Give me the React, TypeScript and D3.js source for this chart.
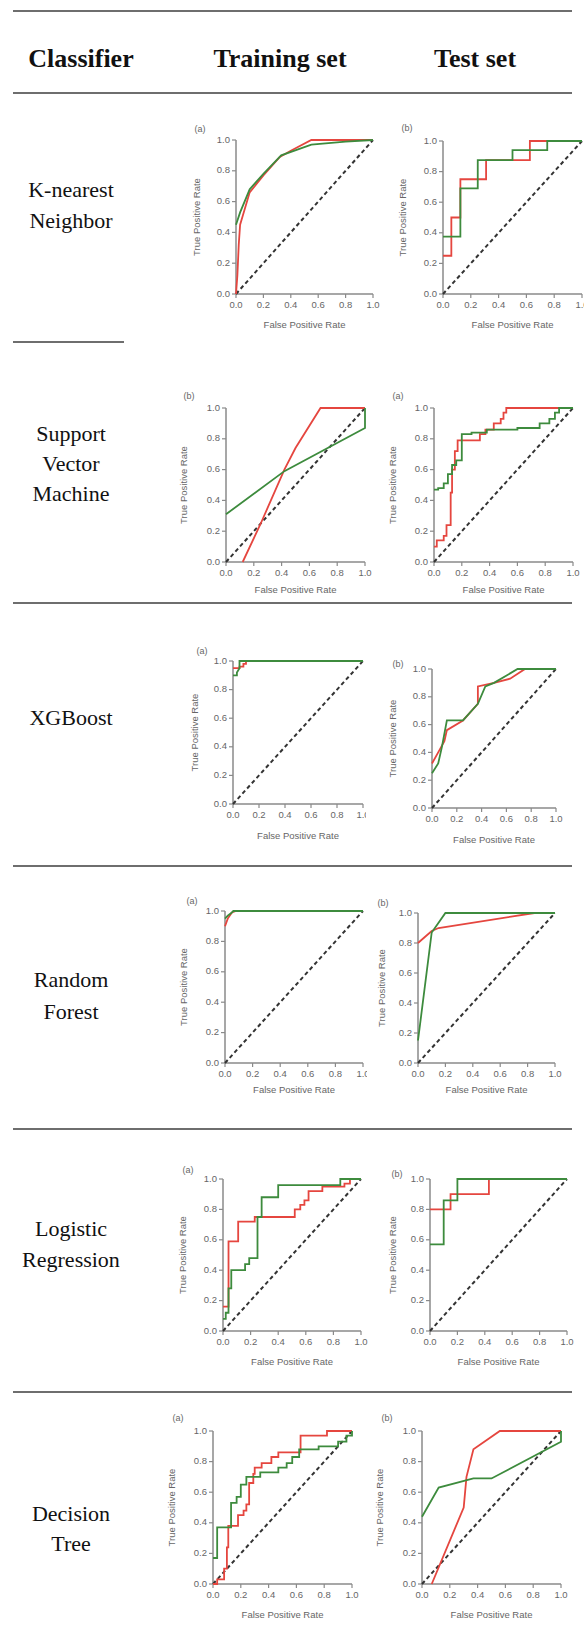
import React from 'react';
import * as d3 from 'd3';

type Pt = [number, number];

// classifier names (one entry per table row, split into text lines)
const classifiers: string[][] = [
  ['K-nearest', 'Neighbor'],
  ['Support', 'Vector', 'Machine'],
  ['XGBoost'],
  ['Random', 'Forest'],
  ['Logistic', 'Regression'],
  ['Decision', 'Tree'],
];
const headers = ['Classifier', 'Training set', 'Test set'];
const tickValues = [0, 0.2, 0.4, 0.6, 0.8, 1.0];

// ROC curves, [false positive rate, true positive rate]
const knnTrainRed: Pt[] = [[0, 0], [0.01, 0.12], [0.02, 0.32], [0.03, 0.45], [0.1, 0.66], [0.2, 0.77], [0.32, 0.89], [0.4, 0.93], [0.55, 1], [1, 1]];
const knnTrainGreen: Pt[] = [[0, 0.45], [0.03, 0.53], [0.1, 0.68], [0.2, 0.78], [0.33, 0.9], [0.55, 0.97], [0.8, 0.99], [1, 1]];
const knnTestRed: Pt[] = [[0, 0.25], [0.06, 0.25], [0.06, 0.5], [0.125, 0.5], [0.125, 0.75], [0.31, 0.75], [0.31, 0.875], [0.625, 0.875], [0.625, 1], [1, 1]];
const knnTestGreen: Pt[] = [[0, 0.375], [0.125, 0.375], [0.125, 0.69], [0.25, 0.69], [0.25, 0.875], [0.5, 0.875], [0.5, 0.94], [0.75, 0.94], [0.75, 1], [1, 1]];

const svmTrainRed: Pt[] = [[0.12, 0], [0.25, 0.25], [0.42, 0.6], [0.5, 0.74], [0.68, 1], [1, 1]];
const svmTrainGreen: Pt[] = [[0, 0.31], [0.42, 0.59], [1, 0.87], [1, 1]];
const svmTestRed: Pt[] = [[0, 0.1], [0.02, 0.1], [0.02, 0.14], [0.07, 0.14], [0.07, 0.17], [0.09, 0.17], [0.09, 0.24], [0.12, 0.24], [0.12, 0.45], [0.13, 0.45], [0.13, 0.6], [0.15, 0.6], [0.15, 0.72], [0.17, 0.72], [0.17, 0.79], [0.33, 0.79], [0.33, 0.83], [0.37, 0.83], [0.37, 0.86], [0.43, 0.86], [0.43, 0.9], [0.48, 0.9], [0.48, 0.93], [0.5, 0.93], [0.5, 0.97], [0.52, 0.97], [0.52, 1], [1, 1]];
const svmTestGreen: Pt[] = [[0, 0.47], [0.03, 0.47], [0.03, 0.48], [0.07, 0.48], [0.07, 0.51], [0.1, 0.51], [0.1, 0.57], [0.13, 0.57], [0.13, 0.63], [0.16, 0.63], [0.16, 0.66], [0.2, 0.66], [0.2, 0.83], [0.27, 0.83], [0.27, 0.84], [0.38, 0.84], [0.38, 0.86], [0.6, 0.86], [0.6, 0.87], [0.76, 0.87], [0.76, 0.9], [0.83, 0.9], [0.83, 0.93], [0.87, 0.93], [0.87, 0.97], [0.9, 0.97], [0.9, 1], [1, 1]];

const xgbTrainRed: Pt[] = [[0, 0.95], [0.05, 0.95], [0.05, 0.96], [0.08, 0.96], [0.08, 0.98], [0.1, 0.98], [0.1, 1], [1, 1]];
const xgbTrainGreen: Pt[] = [[0, 0.9], [0.03, 0.9], [0.03, 0.92], [0.05, 0.95], [0.05, 1], [1, 1]];
const xgbTestRed: Pt[] = [[0, 0.32], [0.05, 0.4], [0.1, 0.48], [0.12, 0.56], [0.25, 0.63], [0.37, 0.75], [0.37, 0.875], [0.5, 0.9], [0.63, 0.93], [0.75, 1], [1, 1]];
const xgbTestGreen: Pt[] = [[0, 0.25], [0.05, 0.32], [0.08, 0.44], [0.12, 0.63], [0.25, 0.63], [0.37, 0.75], [0.43, 0.875], [0.5, 0.9], [0.69, 1], [1, 1]];

const rfTrainRed: Pt[] = [[0, 0.9], [0.02, 0.95], [0.05, 0.99], [0.08, 1], [1, 1]];
const rfTrainGreen: Pt[] = [[0, 0.95], [0.02, 0.97], [0.05, 0.99], [0.06, 1], [1, 1]];
const rfTestRed: Pt[] = [[0, 0.8], [0.05, 0.84], [0.1, 0.88], [0.15, 0.9], [0.85, 1], [1, 1]];
const rfTestGreen: Pt[] = [[0, 0.15], [0.1, 0.87], [0.2, 1], [1, 1]];

const lrTrainRed: Pt[] = [[0, 0.16], [0.04, 0.16], [0.04, 0.59], [0.11, 0.59], [0.11, 0.72], [0.23, 0.72], [0.23, 0.75], [0.52, 0.75], [0.52, 0.8], [0.56, 0.8], [0.56, 0.83], [0.59, 0.83], [0.59, 0.86], [0.62, 0.86], [0.62, 0.92], [0.72, 0.92], [0.72, 0.95], [0.88, 0.95], [0.88, 0.97], [0.92, 0.97], [0.92, 1], [1, 1]];
const lrTrainGreen: Pt[] = [[0, 0.08], [0.02, 0.08], [0.02, 0.12], [0.04, 0.12], [0.04, 0.28], [0.06, 0.28], [0.06, 0.4], [0.16, 0.4], [0.16, 0.44], [0.19, 0.44], [0.19, 0.48], [0.25, 0.48], [0.25, 0.75], [0.28, 0.75], [0.28, 0.88], [0.4, 0.88], [0.4, 0.96], [0.85, 0.96], [0.85, 1], [1, 1]];
const lrTestRed: Pt[] = [[0, 0.8], [0.15, 0.8], [0.15, 0.9], [0.43, 0.9], [0.43, 1], [1, 1]];
const lrTestGreen: Pt[] = [[0, 0.57], [0.1, 0.57], [0.1, 0.86], [0.2, 0.86], [0.2, 1], [1, 1]];

const dtTrainRed: Pt[] = [[0, 0], [0.03, 0], [0.03, 0.03], [0.08, 0.03], [0.08, 0.1], [0.1, 0.1], [0.1, 0.24], [0.11, 0.24], [0.11, 0.38], [0.18, 0.38], [0.18, 0.45], [0.22, 0.45], [0.22, 0.48], [0.24, 0.48], [0.24, 0.52], [0.26, 0.52], [0.26, 0.66], [0.29, 0.66], [0.29, 0.72], [0.3, 0.72], [0.3, 0.76], [0.35, 0.76], [0.35, 0.79], [0.42, 0.79], [0.42, 0.83], [0.47, 0.83], [0.47, 0.86], [0.63, 0.86], [0.63, 0.97], [0.82, 0.97], [0.82, 1], [1, 1]];
const dtTrainGreen: Pt[] = [[0, 0.17], [0.03, 0.17], [0.03, 0.37], [0.13, 0.37], [0.13, 0.53], [0.17, 0.53], [0.17, 0.57], [0.2, 0.57], [0.2, 0.65], [0.24, 0.65], [0.24, 0.7], [0.34, 0.7], [0.34, 0.73], [0.47, 0.73], [0.47, 0.76], [0.53, 0.76], [0.53, 0.79], [0.57, 0.79], [0.57, 0.83], [0.62, 0.83], [0.62, 0.88], [0.76, 0.88], [0.76, 0.9], [0.9, 0.9], [0.9, 0.93], [0.96, 0.93], [0.96, 0.97], [1, 0.97], [1, 1]];
const dtTestRed: Pt[] = [[0.07, 0], [0.3, 0.5], [0.32, 0.7], [0.37, 0.88], [0.56, 1], [1, 1]];
const dtTestGreen: Pt[] = [[0, 0.44], [0.12, 0.63], [0.37, 0.69], [0.5, 0.69], [1, 0.93], [1, 1]];

// where each small ROC panel sits on the page
const panels = [
  { tag: '(a)', red: knnTrainRed, green: knnTrainGreen, x0: 236, x1: 373, top: 140, bottom: 294, tagX: 200, tagY: 130, yt: 197, xt: 325 },
  { tag: '(b)', red: knnTestRed, green: knnTestGreen, x0: 443, x1: 582, top: 141, bottom: 294, tagX: 407, tagY: 129, yt: 403, xt: 325 },
  { tag: '(b)', red: svmTrainRed, green: svmTrainGreen, x0: 226, x1: 365, top: 408, bottom: 562, tagX: 189, tagY: 397, yt: 184, xt: 590 },
  { tag: '(a)', red: svmTestRed, green: svmTestGreen, x0: 434, x1: 573, top: 408, bottom: 562, tagX: 398, tagY: 397, yt: 393, xt: 590 },
  { tag: '(a)', red: xgbTrainRed, green: xgbTrainGreen, x0: 233, x1: 363, top: 661, bottom: 804, tagX: 202, tagY: 652, yt: 195, xt: 836, clip: 366 },
  { tag: '(b)', red: xgbTestRed, green: xgbTestGreen, x0: 432, x1: 556, top: 669, bottom: 808, tagX: 398, tagY: 665, yt: 393, xt: 840 },
  { tag: '(a)', red: rfTrainRed, green: rfTrainGreen, x0: 225, x1: 363, top: 911, bottom: 1063, tagX: 192, tagY: 902, yt: 184, xt: 1090, clip: 367 },
  { tag: '(b)', red: rfTestRed, green: rfTestGreen, x0: 418, x1: 555, top: 913, bottom: 1063, tagX: 383, tagY: 904, yt: 382, xt: 1090 },
  { tag: '(a)', red: lrTrainRed, green: lrTrainGreen, x0: 223, x1: 361, top: 1179, bottom: 1331, tagX: 188, tagY: 1171, yt: 183, xt: 1362 },
  { tag: '(b)', red: lrTestRed, green: lrTestGreen, x0: 430, x1: 567, top: 1179, bottom: 1331, tagX: 397, tagY: 1175, yt: 393, xt: 1362 },
  { tag: '(a)', red: dtTrainRed, green: dtTrainGreen, x0: 213, x1: 352, top: 1431, bottom: 1584, tagX: 178, tagY: 1419, yt: 172, xt: 1615 },
  { tag: '(b)', red: dtTestRed, green: dtTestGreen, x0: 422, x1: 561, top: 1431, bottom: 1584, tagX: 387, tagY: 1419, yt: 380, xt: 1615 },
];

const rowLabelY = [[192, 223], [436, 466, 496], [720], [982, 1014], [1231, 1262], [1516, 1546]];
const rules = [
  { y: 11, x1: 13, x2: 572 },
  { y: 93, x1: 13, x2: 572 },
  { y: 342, x1: 13, x2: 124 },
  { y: 603, x1: 13, x2: 572 },
  { y: 866, x1: 13, x2: 572 },
  { y: 1129, x1: 13, x2: 572 },
  { y: 1392, x1: 13, x2: 572 },
];

const RED = '#e5463f';
const GREEN = '#3d8b3d';
const AXIS = '#8a8a8a';
const LABEL = '#666';
const fmt = d3.format('.1f');

function Roc({ p, idx }: { p: any; idx: number }) {
  const x = d3.scaleLinear().domain([0, 1]).range([p.x0, p.x1]);
  const y = d3.scaleLinear().domain([0, 1]).range([p.bottom, p.top]);
  const line = d3.line<Pt>().x((d) => x(d[0])).y((d) => y(d[1]));
  const midY = (p.top + p.bottom) / 2;
  const midX = (p.x0 + p.x1) / 2;
  return (
    <g clipPath={p.clip ? `url(#clip${idx})` : undefined} fontFamily="'Liberation Sans', Arial, sans-serif">
      {p.clip && (
        <defs>
          <clipPath id={`clip${idx}`}>
            <rect x={0} y={p.top - 40} width={p.clip} height={p.bottom - p.top + 80} />
          </clipPath>
        </defs>
      )}
      <text x={p.tagX} y={p.tagY} fontSize={9} fill={LABEL} textAnchor="middle" dominantBaseline="middle">{p.tag}</text>
      {/* y axis */}
      <line x1={p.x0} x2={p.x0} y1={y(0)} y2={y(1)} stroke={AXIS} strokeWidth={1.5} />
      {tickValues.map((t) => (
        <g key={'y' + t}>
          <line x1={p.x0 - 4} x2={p.x0} y1={y(t)} y2={y(t)} stroke={AXIS} strokeWidth={1.2} />
          <text x={p.x0 - 6} y={y(t)} fontSize={9.5} fill={LABEL} textAnchor="end" dominantBaseline="middle">{fmt(t)}</text>
        </g>
      ))}
      {/* x axis */}
      <line x1={x(0)} x2={x(1)} y1={p.bottom} y2={p.bottom} stroke={AXIS} strokeWidth={1.5} />
      {tickValues.map((t) => (
        <g key={'x' + t}>
          <line x1={x(t)} x2={x(t)} y1={p.bottom} y2={p.bottom + 4} stroke={AXIS} strokeWidth={1.2} />
          <text x={x(t)} y={p.bottom + 11} fontSize={9.5} fill={LABEL} textAnchor="middle" dominantBaseline="middle">{fmt(t)}</text>
        </g>
      ))}
      <text x={midX} y={p.xt} fontSize={9.5} fill={LABEL} textAnchor="middle" dominantBaseline="middle">False Positive Rate</text>
      <text transform={`translate(${p.yt},${midY}) rotate(-90)`} fontSize={9.5} fill={LABEL} textAnchor="middle" dominantBaseline="middle">True Positive Rate</text>
      {/* chance line */}
      <path d={line([[0, 0], [1, 1]]) || ''} stroke="#333" strokeWidth={2} strokeDasharray="4 3" fill="none" />
      <path d={line(p.red) || ''} stroke={RED} strokeWidth={1.8} fill="none" />
      <path d={line(p.green) || ''} stroke={GREEN} strokeWidth={1.8} fill="none" />
    </g>
  );
}

export default function App() {
  return (
    <svg width={584} height={1646} style={{ position: 'absolute', left: 0, top: 0, background: '#fff' }}>
      <rect width={584} height={1646} fill="#fff" />
      {rules.map((r, i) => (
        <line key={i} x1={r.x1} x2={r.x2} y1={r.y} y2={r.y} stroke="#6e6e6e" strokeWidth={2} />
      ))}
      <g fontFamily="'Liberation Serif', 'Times New Roman', serif" fontWeight="bold" fontSize={26} fill="#111" textAnchor="middle">
        <text x={81} y={67}>{headers[0]}</text>
        <text x={280} y={67}>{headers[1]}</text>
        <text x={475} y={67}>{headers[2]}</text>
      </g>
      <g fontFamily="'Liberation Serif', 'Times New Roman', serif" fontSize={22} fill="#111" textAnchor="middle">
        {classifiers.map((lines, i) =>
          lines.map((s, j) => (
            <text key={i + '-' + j} x={71} y={rowLabelY[i][j]} dominantBaseline="middle">{s}</text>
          ))
        )}
      </g>
      {panels.map((p, i) => (
        <Roc key={i} p={p} idx={i} />
      ))}
    </svg>
  );
}
